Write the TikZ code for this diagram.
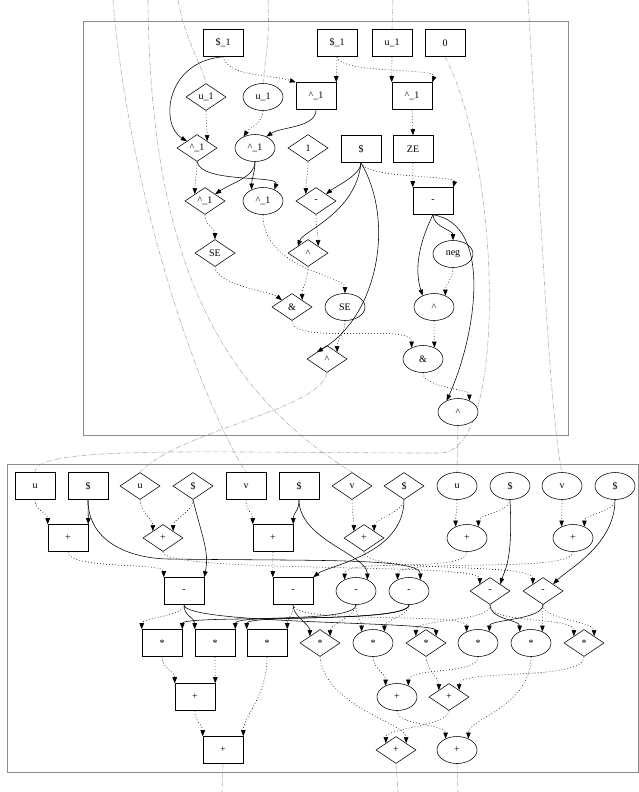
\documentclass[tikz,border=0pt]{standalone}
\usepackage{fontspec}
\setmainfont{Liberation Serif}
\usetikzlibrary{arrows.meta,shapes.geometric}
\pgfdeclarelayer{back}
\pgfsetlayers{back,main}
\definecolor{clusterline}{HTML}{8C8C8C}
\definecolor{crossline}{HTML}{B0B0B0}
\tikzset{
  opnode/.style={draw=black, fill=white, line width=0.55pt, inner sep=0pt, font=\fontsize{10}{11}\selectfont, minimum width=40pt, minimum height=27pt},
  boxop/.style={opnode, rectangle},
  diaop/.style={opnode, diamond},
  ellop/.style={opnode, ellipse},
  soft/.style={-{Triangle[length=6pt,width=4.5pt]}, line width=0.55pt, dash pattern=on 0.8pt off 2.2pt},
  hard/.style={-{Triangle[length=6pt,width=4.5pt]}, line width=0.55pt},
  crossflow/.style={draw=crossline, line width=0.6pt, dash pattern=on 5pt off 1.5pt on 0.8pt off 1.5pt},
  cluster/.style={draw=clusterline, line width=0.8pt},
}
\begin{document}
\begin{tikzpicture}[x=1pt,y=1pt]
  \useasboundingbox (0,0) rectangle (639,-792);
  \draw[cluster] (83,-21) rectangle (568,-435);
  \draw[cluster] (7,-464) rectangle (638,-772);

  % upper cluster
  \node[boxop] (tS1) at (223,-43) {\$\_1};
  \node[boxop] (tS2) at (337,-43) {\$\_1};
  \node[boxop] (tU1) at (392,-43) {u\_1};
  \node[boxop] (tZ0) at (445,-43) {0};
  \node[diaop] (tdU) at (206,-97) {u\_1};
  \node[ellop] (teU) at (263,-97) {u\_1};
  \node[boxop] (tbX1) at (316,-96) {\textasciicircum\_1};
  \node[boxop] (tbX2) at (412,-96) {\textasciicircum\_1};
  \node[diaop] (tdX1) at (197,-148) {\textasciicircum\_1};
  \node[ellop] (teX1) at (255,-148) {\textasciicircum\_1};
  \node[diaop] (tdOne) at (308,-148) {1};
  \node[boxop] (tbS) at (361,-149) {\$};
  \node[boxop] (tbZE) at (413,-149) {ZE};
  \node[diaop] (tdX2) at (205,-201) {\textasciicircum\_1};
  \node[ellop] (teX2) at (263,-201) {\textasciicircum\_1};
  \node[diaop] (tdM) at (316,-201) {-};
  \node[boxop] (tbM) at (433,-201) {-};
  \node[diaop] (tdSE) at (215,-253) {SE};
  \node[diaop] (tdP) at (308,-253) {\textasciicircum};
  \node[ellop] (teNeg) at (453,-254) {neg};
  \node[diaop] (tdAnd) at (292,-307) {\&};
  \node[ellop] (teSE) at (345,-307) {SE};
  \node[ellop] (teP) at (434,-307) {\textasciicircum};
  \node[diaop] (tdP2) at (327,-359) {\textasciicircum};
  \node[ellop] (teAnd) at (423,-359) {\&};
  \node[ellop] (teP2) at (458,-412) {\textasciicircum};

  % lower cluster
  \node[boxop] (bU) at (35,-486) {u};
  \node[boxop] (bS1) at (88,-486) {\$};
  \node[diaop] (dU) at (140,-486) {u};
  \node[diaop] (dS1) at (193,-486) {\$};
  \node[boxop] (bV) at (246,-486) {v};
  \node[boxop] (bS2) at (299,-486) {\$};
  \node[diaop] (dV) at (352,-486) {v};
  \node[diaop] (dS2) at (404,-486) {\$};
  \node[ellop] (eU) at (457,-486) {u};
  \node[ellop] (eS1) at (510,-486) {\$};
  \node[ellop] (eV) at (562,-486) {v};
  \node[ellop] (eS2) at (615,-486) {\$};
  \node[boxop] (bP1) at (68,-538) {+};
  \node[diaop] (dP1) at (163,-538) {+};
  \node[boxop] (bP2) at (273,-538) {+};
  \node[diaop] (dP2) at (364,-538) {+};
  \node[ellop] (eP1) at (467,-538) {+};
  \node[ellop] (eP2) at (573,-538) {+};
  \node[boxop] (bM1) at (184,-591) {-};
  \node[boxop] (bM2) at (293,-591) {-};
  \node[ellop] (eM1) at (356,-591) {-};
  \node[ellop] (eM2) at (409,-591) {-};
  \node[diaop] (dM1) at (490,-591) {-};
  \node[diaop] (dM2) at (543,-591) {-};
  \node[boxop] (bT1) at (162,-643) {*};
  \node[boxop] (bT2) at (215,-643) {*};
  \node[boxop] (bT3) at (267,-643) {*};
  \node[diaop] (dT1) at (320,-643) {*};
  \node[ellop] (eT1) at (373,-643) {*};
  \node[diaop] (dT2) at (426,-643) {*};
  \node[ellop] (eT2) at (478,-643) {*};
  \node[ellop] (eT3) at (531,-643) {*};
  \node[diaop] (dT3) at (584,-643) {*};
  \node[boxop] (bQ1) at (195,-697) {+};
  \node[ellop] (eQ1) at (397,-697) {+};
  \node[diaop] (dQ1) at (449,-697) {+};
  \node[boxop] (bQ2) at (223,-750) {+};
  \node[diaop] (dQ2) at (396,-750) {+};
  \node[ellop] (eQ2) at (457,-750) {+};

  % links between clusters
  \coordinate (inA) at (113,0);
  \coordinate (inB) at (148,0);
  \coordinate (inC) at (178,0);
  \coordinate (inD) at (268,0);
  \coordinate (inE) at (393,0);
  \coordinate (inF) at (528,0);
  \coordinate (bend) at (440,-453);
  \coordinate (outA) at (222,-792);
  \coordinate (outB) at (398,-792);
  \coordinate (outC) at (458,-792);
  \begin{pgfonlayer}{back}
  \draw[crossflow] (inA) .. controls (130,-200) and (200,-400) .. (bV.north);
  \draw[crossflow] (inB) .. controls (150,-260) and (220,-390) .. (dV.north);
  \draw[crossflow] (inC) .. controls (185,-40) and (200,-60) .. (tdU.north);
  \draw[crossflow] (inD) .. controls (270,-40) and (265,-60) .. (teU.north);
  \draw[crossflow] (inE) -- (tU1.north);
  \draw[crossflow] (inF) .. controls (540,-200) and (550,-420) .. (eV.north);
  \draw[crossflow] (tZ0.south) .. controls (500,-160) and (510,-453) .. (bend)
    .. controls (200,-453) and (35,-445) .. (bU.north);
  \draw[crossflow] (tdP2.south) .. controls (320,-410) and (180,-430) .. (dU.north);
  \draw[crossflow] (teP2.south) -- (eU.north);
  \draw[crossflow] (bQ2.south) -- (outA);
  \draw[crossflow] (dQ2.south) -- (outB);
  \draw[crossflow] (eQ2.south) -- (outC);
  \end{pgfonlayer}

  % upper cluster edges
  \draw[hard] (tS1.south) .. controls +(-58,-5) and +(-27,16) .. (tdX1.north west);
  \draw[soft] (tS1.south) .. controls +(5,-20) and +(-25,8) .. (tbX1.north west);
  \draw[soft] (tdU.south) .. controls +(0,-12) and +(0,12) .. (tdX1.north east);
  \draw[soft] (teU.south) .. controls +(0,-12) and +(5,8) .. (teX1.135);
  \draw[hard] (tbX1.south) .. controls +(0,-18) and +(15,10) .. (teX1.45);
  \draw[soft] (tS2.south) .. controls +(0,-10) and +(0,10) .. (tbX1.north east);
  \draw[soft] (tS2.south) .. controls +(5,-18) and +(5,15) .. (tbX2.north east);
  \draw[soft] (tU1.south) .. controls +(0,-10) and +(0,10) .. (tbX2.north west);
  \draw[soft] (tbX2.south) -- (tbZE.north);
  \draw[soft] (tdX1.south) .. controls +(0,-12) and +(0,12) .. (tdX2.north west);
  \draw[hard] (teX1.south) .. controls +(0,-15) and +(18,12) .. (tdX2.north east);
  \draw[hard] (teX1.south) .. controls +(0,-10) and +(0,10) .. (teX2.135);
  \draw[hard] (tdX1.south) .. controls +(5,-22) and +(5,15) .. (teX2.45);
  \draw[soft] (tdOne.south) .. controls +(0,-12) and +(0,12) .. (tdM.north west);
  \draw[hard] (tbS.south) .. controls +(0,-12) and +(10,8) .. (tdM.north east);
  \draw[soft] (tbS.south) .. controls +(5,-16) and +(3,12) .. (tbM.north east);
  \draw[soft] (tbZE.south) -- (tbM.north west);
  \draw[soft] (tdX2.south) .. controls +(0,-12) and +(0,12) .. (tdSE.north);
  \draw[hard] (tbS.south) .. controls +(-5,-50) and +(5,15) .. (tdP.north west);
  \draw[soft] (tdM.south) .. controls +(0,-12) and +(0,12) .. (tdP.north east);
  \draw[hard] (tbM.south) .. controls +(0,-12) and +(0,10) .. (teNeg.north);
  \draw[soft] (tdSE.south) .. controls +(0,-18) and +(-10,8) .. (tdAnd.north west);
  \draw[soft] (tdP.south) .. controls +(0,-12) and +(0,12) .. (tdAnd.north east);
  \draw[soft] (teX2.south) .. controls +(0,-55) and +(0,18) .. (teSE.north);
  \draw[hard] (tbM.south) .. controls +(-15,-30) and +(-8,25) .. (teP.135);
  \draw[soft] (teNeg.south) .. controls +(0,-12) and +(0,12) .. (teP.45);
  \draw[soft] (tdAnd.south) .. controls +(0,-25) and +(0,25) .. (teAnd.135);
  \draw[soft] (teSE.south) .. controls +(0,-12) and +(0,12) .. (tdP2.north east);
  \draw[hard] (tbS.south) .. controls +(35,-60) and +(60,35) .. (tdP2.north west);
  \draw[soft] (teP.south) -- (teAnd.45);
  \draw[hard] (tbM.south) .. controls +(62,-10) and +(28,61) .. (teP2.135);
  \draw[soft] (teAnd.south) .. controls +(0,-15) and +(0,12) .. (teP2.45);

  % lower cluster edges
  \draw[soft] (bU.south) .. controls +(0,-12) and +(0,12) .. (bP1.north west);
  \draw[hard] (bS1.south) .. controls +(0,-12) and +(0,12) .. (bP1.north east);
  \draw[soft] (dU.south) .. controls +(0,-12) and +(0,12) .. (dP1.north west);
  \draw[soft] (dS1.south) .. controls +(0,-12) and +(0,12) .. (dP1.north east);
  \draw[soft] (bV.south) .. controls +(0,-12) and +(0,12) .. (bP2.north west);
  \draw[hard] (bS2.south) .. controls +(0,-12) and +(0,12) .. (bP2.north east);
  \draw[soft] (dV.south) .. controls +(0,-12) and +(0,12) .. (dP2.north west);
  \draw[soft] (dS2.south) .. controls +(0,-12) and +(0,12) .. (dP2.north east);
  \draw[soft] (eU.south) .. controls +(0,-12) and +(0,12) .. (eP1.135);
  \draw[soft] (eS1.south) .. controls +(0,-12) and +(0,12) .. (eP1.45);
  \draw[soft] (eV.south) .. controls +(0,-12) and +(0,12) .. (eP2.135);
  \draw[soft] (eS2.south) .. controls +(0,-12) and +(0,12) .. (eP2.45);

  \coordinate (sweep) at (170,-559);
  \draw[soft] (bP1.south) .. controls +(0,-18) and +(0,15) .. (bM1.north west);
  \draw[hard] (dS1.south) .. controls +(10,-40) and +(5,25) .. (bM1.north east);
  \draw[soft] (bP2.south) -- (bM2.north west);
  \draw[hard] (dS2.south) .. controls +(0,-55) and +(15,12) .. (bM2.north east);
  \draw[hard] (bS1.south) .. controls +(0,-45) and +(-35,0) .. (sweep)
    .. controls +(140,-2) and +(0,22) .. (eM2.45);
  \draw[hard] (bS2.south) .. controls +(0,-40) and +(0,25) .. (eM1.45);
  \draw[soft] (eP1.south) .. controls +(0,-22) and +(0,22) .. (eM1.135);
  \draw[soft] (eP2.south) .. controls +(0,-22) and +(0,22) .. (eM2.135);
  \draw[soft] (dP1.south) .. controls +(0,-22) and +(0,22) .. (dM1.north west);
  \draw[soft] (dP2.south) .. controls +(0,-22) and +(0,22) .. (dM2.north west);
  \draw[hard] (eS1.south) .. controls +(3,-60) and +(5,15) .. (dM1.north east);
  \draw[hard] (eS2.south) .. controls +(0,-45) and +(15,15) .. (dM2.north east);

  \draw[soft] (bM1.south) .. controls +(0,-12) and +(0,12) .. (bT1.north west);
  \draw[hard] (bM1.south) .. controls +(0,-12) and +(0,12) .. (bT2.north west);
  \draw[hard] (bM1.south) .. controls +(0,-20) and +(0,15) .. (dT2.north east);
  \draw[soft] (bM2.south) .. controls +(0,-12) and +(0,12) .. (bT3.north east);
  \draw[hard] (bM2.south) .. controls +(0,-12) and +(0,12) .. (dT1.north west);
  \draw[soft] (bM2.south) .. controls +(0,-20) and +(0,20) .. (eT2.135);
  \draw[hard] (eM1.south) .. controls +(0,-18) and +(0,15) .. (bT2.north east);
  \draw[soft] (eM1.south) .. controls +(0,-12) and +(0,12) .. (dT1.north east);
  \draw[soft] (eM1.south) .. controls +(0,-12) and +(0,12) .. (eT1.135);
  \draw[hard] (eM2.south) .. controls +(0,-18) and +(0,15) .. (bT3.north west);
  \draw[hard] (eM2.south) .. controls +(0,-20) and +(0,15) .. (bT1.north east);
  \draw[soft] (eM2.south) .. controls +(0,-12) and +(0,12) .. (eT1.45);
  \draw[hard] (dM1.south) .. controls +(0,-15) and +(0,12) .. (eT3.135);
  \draw[soft] (dM1.south) .. controls +(0,-18) and +(0,18) .. (dT2.north west);
  \draw[soft] (dM1.south) .. controls +(0,-20) and +(0,20) .. (dT3.north west);
  \draw[hard] (dM2.south) .. controls +(0,-15) and +(0,12) .. (eT2.45);
  \draw[soft] (dM2.south) .. controls +(0,-15) and +(0,15) .. (dT3.north east);
  \draw[soft] (dM2.south) .. controls +(0,-12) and +(0,12) .. (eT3.45);

  \draw[soft] (bT1.south) .. controls +(0,-12) and +(0,12) .. (bQ1.north west);
  \draw[soft] (bT2.south) .. controls +(0,-12) and +(0,12) .. (bQ1.north east);
  \draw[soft] (eT1.south) .. controls +(0,-12) and +(0,12) .. (eQ1.135);
  \draw[soft] (eT2.south) .. controls +(0,-18) and +(0,18) .. (eQ1.45);
  \draw[soft] (dT2.south) .. controls +(0,-12) and +(0,12) .. (dQ1.north west);
  \draw[soft] (dT3.south) .. controls +(0,-25) and +(0,22) .. (dQ1.north east);
  \draw[soft] (bQ1.south) .. controls +(0,-12) and +(0,12) .. (bQ2.north west);
  \draw[soft] (bT3.south) .. controls +(0,-40) and +(0,20) .. (bQ2.north east);
  \draw[soft] (dQ1.south) .. controls +(0,-15) and +(0,15) .. (dQ2.north west);
  \draw[soft] (dT1.south) .. controls +(5,-50) and +(0,20) .. (dQ2.north east);
  \draw[soft] (eQ1.south) .. controls +(0,-15) and +(0,15) .. (eQ2.135);
  \draw[soft] (eT3.south) .. controls +(0,-50) and +(0,20) .. (eQ2.45);
\end{tikzpicture}
\end{document}
